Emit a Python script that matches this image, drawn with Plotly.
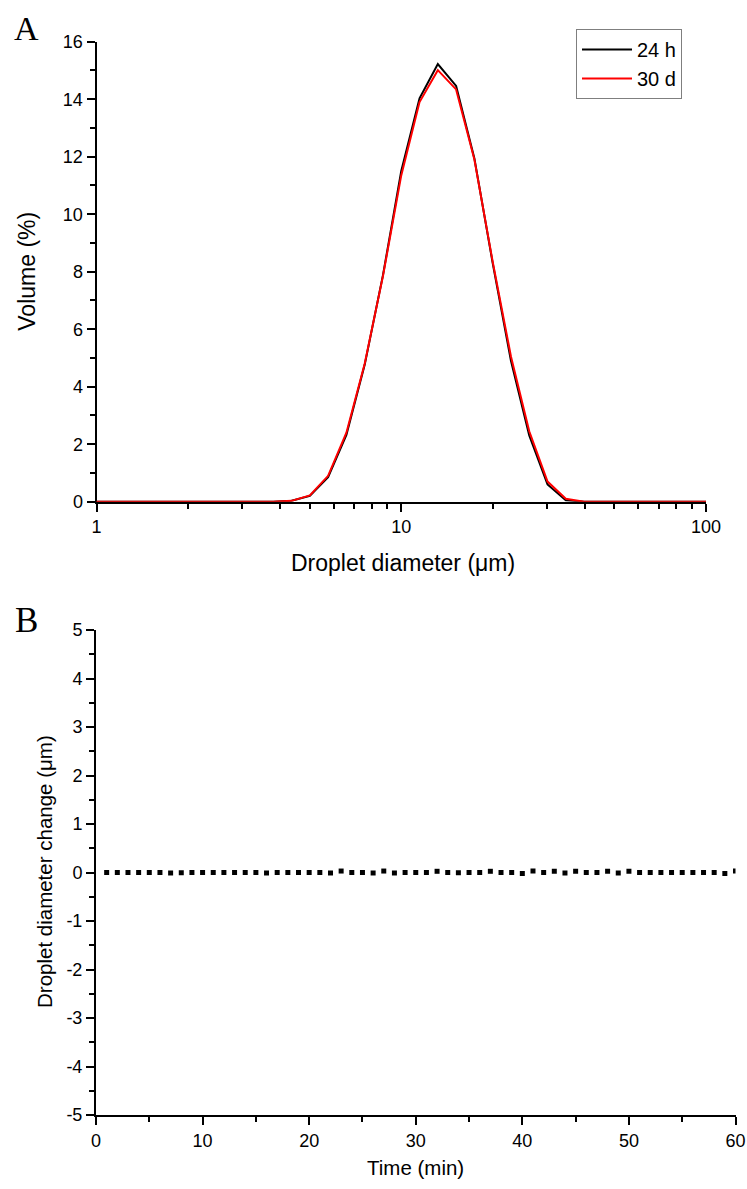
import plotly.graph_objects as go

# Panel A: droplet size distribution (Mastersizer size classes, um)
diameter_um = [0.955, 1.096, 1.259, 1.445, 1.660, 1.905, 2.188, 2.512, 2.884,
               3.311, 3.802, 4.365, 5.012, 5.754, 6.607, 7.586, 8.710, 10.000,
               11.482, 13.183, 15.136, 17.378, 19.953, 22.909, 26.303, 30.200,
               34.674, 39.811, 45.709, 52.481, 60.256, 69.183, 79.433, 91.201,
               104.713]
volume_24h = [0, 0, 0, 0, 0, 0, 0, 0, 0,
              0, 0, 0.03, 0.2, 0.85, 2.32, 4.76, 7.88, 11.5,
              14.03, 15.22, 14.46, 11.94, 8.3, 4.9, 2.3, 0.6,
              0.05, 0, 0, 0, 0, 0, 0, 0,
              0]
volume_30d = [0, 0, 0, 0, 0, 0, 0, 0, 0,
              0, 0, 0.03, 0.22, 0.9, 2.4, 4.8, 7.85, 11.35,
              13.9, 15.01, 14.34, 11.9, 8.35, 5.05, 2.45, 0.7,
              0.1, 0, 0, 0, 0, 0, 0, 0,
              0]

# Panel B: droplet diameter change over time
time_min = list(range(1, 61))
diameter_change = [0, 0, 0, 0, 0, 0, -0.01, -0.005, 0, 0,
                   0, 0, 0, 0, 0, -0.01, 0, 0, 0, 0,
                   0, -0.01, 0.03, 0, 0, -0.01, 0.03, -0.01, 0, 0,
                   0, 0.025, 0, -0.005, 0, 0, 0.025, 0, 0, -0.02,
                   0.03, 0, 0.025, -0.01, 0.025, 0, 0, 0.025, -0.01, 0.025,
                   0, 0, 0, 0, 0, 0, 0, 0, -0.02, 0.03]
change_ticks = [-5, -4, -3, -2, -1, 0, 1, 2, 3, 4, 5]

W, H = 747, 1189
FONT = "Arial, Liberation Sans, sans-serif"
SERIF = "Times New Roman, Liberation Serif, serif"


def fx(px):
    return px / W


def fy(px):
    return 1 - px / H


fig = go.Figure()
fig.add_trace(go.Scatter(x=diameter_um, y=volume_24h, mode="lines", name="24 h",
                         line=dict(color="black", width=2), xaxis="x", yaxis="y"))
fig.add_trace(go.Scatter(x=diameter_um, y=volume_30d, mode="lines", name="30 d",
                         line=dict(color="#ff0000", width=2), xaxis="x", yaxis="y"))
fig.add_trace(go.Scatter(x=time_min, y=diameter_change, mode="markers",
                         marker=dict(symbol="square", size=5, color="black"),
                         showlegend=False, xaxis="x2", yaxis="y2"))

axis_common = dict(showline=True, linecolor="black", linewidth=2, ticks="outside",
                   ticklen=8, tickwidth=1.5, tickcolor="black", showgrid=False,
                   zeroline=False, mirror=False, layer="below traces",
                   automargin=False,
                   tickfont=dict(family=FONT, size=18, color="black"))
minor_common = dict(ticks="outside", ticklen=5, tickwidth=1.5, tickcolor="black",
                    showgrid=False)

fig.update_layout(
    template="none",
    width=W, height=H,
    margin=dict(l=0, r=0, t=0, b=0, autoexpand=False),
    paper_bgcolor="white", plot_bgcolor="white",
    font=dict(family=FONT, color="black"),
    xaxis=dict(axis_common, type="log", range=[0, 2],
               domain=[fx(96.5), fx(706)], anchor="y",
               tickvals=[1, 10, 100], ticktext=["1", "10", "100"],
               minor=dict(minor_common,
                          tickvals=[2, 3, 4, 5, 6, 7, 8, 9,
                                    20, 30, 40, 50, 60, 70, 80, 90])),
    yaxis=dict(axis_common, range=[0, 16], dtick=2,
               domain=[fy(501.7), fy(41.7)], anchor="x",
               minor=dict(minor_common, dtick=1)),
    xaxis2=dict(axis_common, range=[0, 60], dtick=10,
                domain=[fx(96), fx(735.5)], anchor="y2",
                minor=dict(minor_common, dtick=5)),
    yaxis2=dict(axis_common, range=[-5, 5],
                tickvals=change_ticks, ticktext=[str(v) for v in change_ticks],
                domain=[fy(1115), fy(630)], anchor="x2",
                minor=dict(minor_common, dtick=0.5)),
    legend=dict(x=fx(576), y=fy(29), xanchor="left", yanchor="top",
                bordercolor="#7f7f7f", borderwidth=1, bgcolor="white",
                font=dict(family=FONT, size=20, color="black"),
                tracegroupgap=0, itemwidth=50),
    showlegend=True,
)

title_a = dict(family=FONT, size=23, color="black")
title_b = dict(family=FONT, size=20.5, color="black")
annotations = [
    dict(text="A", x=fx(26), y=fy(28), font=dict(family=SERIF, size=34, color="black")),
    dict(text="B", x=fx(26), y=fy(621), font=dict(family=SERIF, size=35, color="black")),
    dict(text="Droplet diameter (μm)", x=fx(403), y=fy(563), font=title_a),
    dict(text="Volume (%)", x=fx(27), y=fy(271.7), textangle=-90, font=title_a),
    dict(text="Droplet diameter change (μm)", x=fx(44), y=fy(872),
         textangle=-90, font=title_b),
    dict(text="Time (min)", x=fx(415), y=fy(1167), font=title_b),
]
for a in annotations:
    a.update(xref="paper", yref="paper", showarrow=False,
             xanchor="center", yanchor="middle")
fig.update_layout(annotations=annotations)

# drop the page's default body margin so the figure sits at the window's corner
fig.write_html("out.html", config={"displayModeBar": False},
               post_script="document.body.style.margin = '0';")
